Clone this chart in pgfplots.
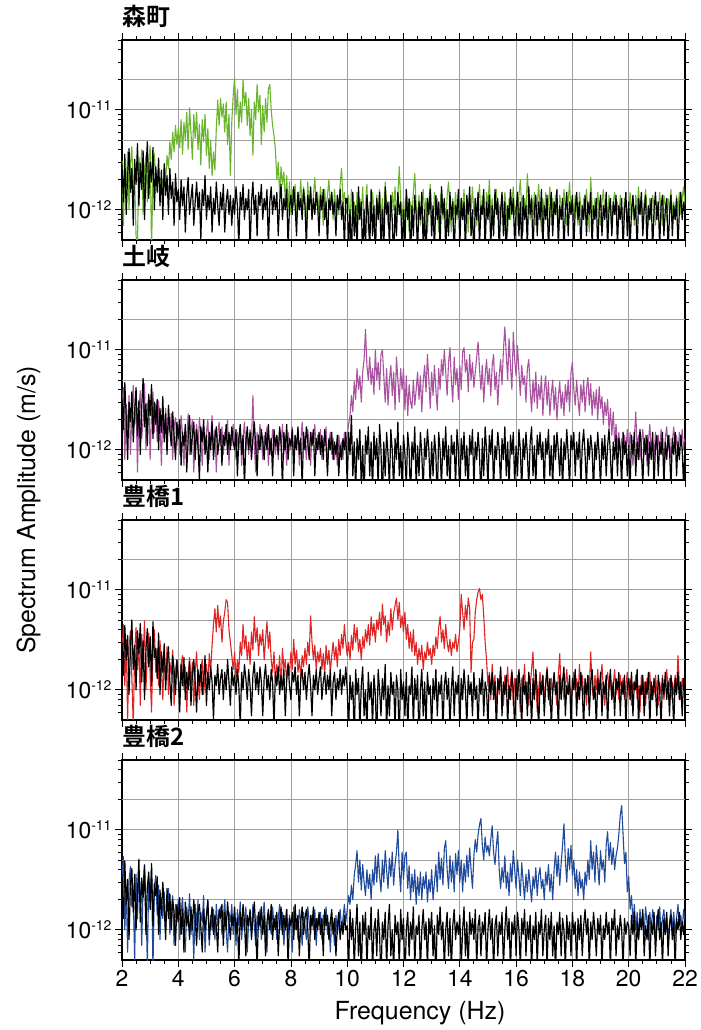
\documentclass[border=0pt]{standalone}
\usepackage{fontspec}
\setmainfont{TeX Gyre Heros}
\newfontfamily\cjk{Noto Sans CJK JP Bold}
\usepackage{pgfplots}
\pgfplotsset{compat=1.18}
\usepackage{pgfplotstable}
\definecolor{cgreen}{RGB}{106,180,46}
\definecolor{cpurple}{RGB}{168,82,160}
\definecolor{cred}{RGB}{222,36,36}
\definecolor{cblue}{RGB}{32,74,156}
\definecolor{gridc}{RGB}{160,160,160}
\newcommand\tenexp[1]{10\raisebox{8.5bp}{\fontsize{14}{14}\selectfont -#1}}
\pgfplotstableread{
x k1 g k2 p k3 r k4 b
2.00 2.8 3.1 3.3 2.4 3.0 2.2 2.6 3.4
2.05 1.2 0.7 1.6 4.2 1.4 4.5 1.3 5.4
2.10 3.6 2.5 4.7 0.8 4.4 1.1 4.9 1.0
2.15 0.9 1.7 2.1 2.8 2.0 3.2 1.8 2.6
2.20 2.2 3.8 0.8 1.5 3.5 0.5 3.2 0.6
2.25 4.1 1.0 3.0 3.5 0.9 2.7 0.8 3.1
2.30 1.5 2.9 1.9 0.9 2.6 3.9 2.9 4.3
2.35 2.6 4.3 3.8 2.2 5.0 1.3 4.1 1.7
2.40 0.7 1.4 1.2 4.4 1.6 0.45 1.5 2.2
2.45 3.2 2.0 2.5 1.8 2.8 2.4 3.6 0.5
2.50 1.8 0.55 4.2 3.0 1.0 4.2 1.0 3.6
2.55 4.6 0.45 1.4 0.6 3.9 1.6 2.4 1.3
2.60 1.1 3.4 3.1 2.6 2.3 2.9 5.1 4.0
2.65 2.9 2.2 0.9 3.9 4.6 0.7 1.2 2.4
2.70 1.6 4.0 2.7 1.3 1.2 3.6 3.3 0.7
2.75 3.9 0.9 5.2 2.0 3.1 2.0 2.1 2.9
2.80 0.8 2.6 1.7 4.6 0.8 4.9 4.4 4.5
2.85 2.4 3.5 2.9 1.0 2.5 1.0 0.9 1.9
2.90 4.8 1.2 1.1 2.7 4.1 2.3 2.7 0.45
2.95 1.3 3.0 3.6 3.3 1.7 3.7 3.8 3.2
3.00 3.0 4.4 2.2 0.8 3.4 1.4 1.6 2.0
3.05 1.9 0.4 4.5 2.4 1.1 0.6 4.6 4.2
3.10 4.2 2.3 1.3 3.8 4.8 2.8 1.1 0.4
3.15 1.0 3.7 3.0 1.5 2.1 4.0 2.9 2.7
3.20 2.7 2.0 1.8 2.9 2.6 1.5 2.2 3.5
3.25 1.5 1.8 3.2 1.2 1.3 2.6 3.4 1.4
3.30 3.3 2.6 1.0 3.1 3.7 1.1 0.9 2.8
3.35 1.1 1.2 2.6 1.9 0.9 3.1 2.5 0.8
3.40 2.5 2.2 1.5 0.7 2.4 1.7 1.4 2.1
3.45 0.8 1.5 3.4 2.5 1.5 0.8 3.0 1.3
3.50 2.9 2.8 1.2 1.3 2.9 2.3 1.7 2.4
3.55 1.4 2.0 2.3 2.6 1.0 1.2 0.8 1.0
3.60 2.2 3.5 0.9 1.0 1.9 2.7 2.6 1.9
3.65 0.9 2.6 2.8 2.0 2.7 0.9 1.3 2.6
3.70 2.6 4.8 1.6 1.5 1.2 1.9 2.3 0.9
3.75 1.3 3.2 1.1 2.3 0.7 1.4 1.0 1.6
3.80 1.9 6.0 2.4 0.8 2.2 2.5 2.0 2.2
3.85 0.7 3.8 1.4 1.7 1.6 0.7 1.5 0.7
3.90 2.3 7.0 0.8 2.1 0.9 1.6 0.7 1.8
3.95 1.2 4.5 1.9 1.1 2.0 2.0 1.8 1.2
4.00 1.6 6.5 1.3 1.8 1.3 1.3 1.2 2.0
4.05 0.8 4.2 2.0 0.9 0.6 0.9 2.1 0.8
4.10 2.0 8.0 0.7 2.2 1.8 1.8 0.9 1.5
4.15 1.1 3.6 1.5 1.4 1.1 2.2 1.6 2.1
4.20 1.7 7.5 1.1 0.7 2.1 1.0 0.6 1.0
4.25 0.6 5.0 1.8 1.6 0.8 1.7 1.9 0.6
4.30 1.4 9.5 0.6 1.2 1.5 0.6 1.1 1.7
4.35 2.1 4.0 1.3 2.3 1.0 1.4 1.4 1.2
4.40 0.9 10.5 2.2 0.9 1.9 2.1 0.8 2.3
4.45 1.3 6.0 0.9 1.5 0.7 1.1 1.7 0.9
4.50 1.8 3.2 1.4 2.0 1.4 1.9 1.0 1.4
4.55 0.7 9.0 1.9 0.6 2.0 0.7 2.0 0.5
4.60 1.2 5.2 0.8 1.3 1.2 1.5 1.3 1.8
4.65 1.9 9.5 1.6 1.8 0.6 2.4 0.7 1.1
4.70 1.0 4.0 1.1 1.0 1.6 1.2 1.5 2.0
4.75 1.5 7.2 0.5 2.1 1.1 0.8 1.8 0.8
4.80 0.5 2.8 1.7 1.4 1.8 1.6 1.1 1.5
4.85 1.6 8.0 1.2 0.7 0.9 2.0 0.6 1.2
4.90 1.1 4.8 2.0 1.7 1.3 0.9 1.6 2.2
4.95 2.2 9.0 0.9 1.1 2.2 1.4 1.0 0.6
5.00 0.8 3.5 1.4 1.5 0.7 1.8 1.4 1.3
5.05 1.4 6.5 0.6 2.0 1.5 1.1 2.0 1.9
5.10 1.0 2.6 1.5 0.8 1.0 2.3 0.8 0.7
5.15 1.7 5.0 1.0 1.3 1.7 1.5 1.2 1.4
5.20 0.6 2.2 1.9 2.2 1.2 2.8 1.7 1.0
5.25 1.3 3.8 0.8 1.0 0.5 4.5 0.9 1.6
5.30 0.9 2.5 1.3 1.6 1.4 6.5 1.4 0.8
5.35 1.9 6.5 1.7 0.6 1.1 3.8 1.1 1.8
5.40 1.1 12.5 0.9 1.4 1.8 7.0 0.6 1.1
5.45 0.7 7.0 1.2 1.9 0.9 4.2 1.6 1.5
5.50 1.5 13.0 1.6 1.1 1.3 5.5 1.3 1.7
5.55 1.0 8.5 0.7 1.7 1.6 3.0 1.8 0.9
5.60 1.8 11.5 1.4 0.9 0.8 4.8 0.7 1.3
5.65 0.6 6.0 1.1 1.5 1.5 6.0 1.5 2.0
5.70 1.2 12.0 1.8 1.2 1.0 8.0 1.0 1.0
5.75 1.6 4.5 0.9 2.0 2.0 7.5 1.9 0.6
5.80 0.9 9.0 1.5 0.7 1.2 4.0 1.2 1.5
5.85 1.4 2.2 1.0 1.4 0.7 3.0 0.8 1.2
5.90 0.7 7.5 1.7 1.1 1.7 2.2 1.4 1.8
5.95 1.3 14.0 1.2 1.8 1.1 1.6 1.1 0.9
6.00 0.9 21.0 1.0 1.2 1.4 2.4 1.7 1.4
6.05 1.7 9.0 1.6 0.8 0.9 1.3 0.9 0.7
6.10 1.1 16.0 0.55 1.5 1.6 2.0 1.3 1.6
6.15 0.42 6.5 1.3 1.0 1.1 1.5 0.42 1.1
6.20 1.5 12.0 1.8 1.7 0.42 3.0 1.5 1.9
6.25 1.0 7.5 0.9 0.7 1.5 2.2 1.0 0.8
6.30 1.8 20.0 1.4 1.3 1.0 4.5 1.8 1.3
6.35 0.8 11.0 0.42 1.9 1.8 2.6 1.2 1.0
6.40 1.3 15.0 1.2 1.0 1.3 3.5 0.55 1.7
6.45 1.0 7.0 1.7 1.4 0.8 2.0 1.4 0.6
6.50 1.6 13.0 1.0 0.9 1.6 3.0 1.1 1.2
6.55 0.38 5.5 1.5 1.6 1.1 1.8 1.6 1.5
6.60 1.2 10.0 0.8 1.2 0.55 3.8 0.8 0.9
6.65 1.9 3.5 1.3 3.5 1.4 2.5 1.3 1.8
6.70 0.9 12.0 1.9 1.1 1.9 5.4 1.9 1.1
6.75 1.4 8.0 1.1 0.6 1.0 3.0 1.0 0.7
6.80 0.55 18.0 0.55 1.5 1.5 4.2 0.42 1.4
6.85 1.5 9.5 1.4 1.0 0.9 2.2 1.5 1.0
6.90 1.1 14.0 1.0 1.8 1.7 3.6 1.1 1.6
6.95 1.8 4.5 1.6 1.3 1.2 2.8 1.7 0.8
7.00 0.8 11.0 1.2 0.8 0.55 4.0 0.9 1.3
7.05 1.3 6.0 0.8 1.4 1.3 2.0 1.4 1.9
7.10 1.0 13.0 1.5 1.1 1.8 3.2 0.55 1.0
7.15 1.6 7.5 1.0 1.7 1.0 4.8 1.2 0.6
7.20 0.42 16.0 1.8 0.7 1.4 2.6 1.6 1.5
7.25 1.2 18.0 0.9 1.3 0.8 3.8 1.0 1.2
7.30 1.7 10.0 1.3 1.0 1.6 2.0 1.8 0.9
7.35 0.9 7.0 0.55 1.6 1.2 1.5 0.8 1.7
7.40 1.4 5.5 1.6 1.2 0.42 2.4 1.3 1.1
7.45 1.0 4.0 1.1 0.9 1.5 1.2 1.0 1.4
7.50 1.5 2.0 1.4 1.4 1.1 1.8 1.5 0.8
7.55 0.55 3.0 0.9 0.8 1.7 1.3 0.55 1.3
7.60 1.2 1.4 1.7 1.6 0.9 2.2 1.2 1.8
7.65 1.8 2.7 1.2 1.1 1.4 1.0 1.7 1.0
7.70 0.8 1.8 0.42 1.8 1.0 2.6 0.9 1.5
7.75 1.3 2.4 1.5 0.9 1.6 1.6 1.4 0.7
7.80 1.0 1.2 1.0 1.3 0.55 2.0 1.0 1.2
7.85 1.6 2.2 1.8 0.7 1.3 1.2 1.6 1.6
7.90 0.42 1.0 0.8 1.5 1.8 1.9 0.42 0.9
7.95 1.1 1.9 1.3 1.2 1.1 1.4 1.3 1.4
8.00 1.4 0.9 1.1 1.0 0.8 2.4 1.1 1.1
8.05 0.9 1.6 1.6 1.7 1.5 1.6 1.5 0.6
8.10 1.7 1.1 0.55 0.8 1.2 3.2 0.8 1.7
8.15 1.1 1.8 1.4 1.4 1.7 1.8 1.8 1.0
8.20 0.55 0.8 1.0 1.1 0.9 2.5 1.0 1.3
8.25 1.5 1.5 1.7 1.6 1.4 1.5 1.4 0.8
8.30 1.0 1.2 0.9 0.7 0.55 2.0 0.55 1.6
8.35 1.3 2.0 1.3 1.2 1.3 1.3 1.2 1.2
8.40 0.8 1.0 0.42 1.9 1.6 2.2 1.7 0.7
8.45 1.6 1.7 1.5 1.0 1.0 1.7 0.9 1.5
8.50 1.1 1.3 1.0 1.3 1.5 2.6 1.3 1.1
8.55 0.42 0.7 1.7 0.8 0.8 1.8 1.6 0.8
8.60 1.4 1.9 1.2 1.6 1.3 3.0 1.0 1.7
8.65 1.0 1.0 0.8 1.1 1.8 2.2 0.42 1.2
8.70 1.7 1.6 1.5 0.7 1.1 5.5 1.4 0.9
8.75 0.8 0.8 1.1 1.5 0.55 3.0 1.1 1.4
8.80 1.3 1.4 1.6 1.2 1.4 2.0 1.7 1.0
8.85 0.9 2.1 0.55 1.8 1.0 2.8 0.8 1.6
8.90 1.5 1.1 1.3 0.9 1.6 1.6 1.3 0.7
8.95 1.1 1.5 1.0 1.4 0.9 2.4 1.0 1.3
9.00 0.55 0.9 1.5 1.0 1.3 1.9 1.5 1.1
9.05 1.4 1.7 0.9 1.6 1.7 2.6 0.9 1.5
9.10 1.0 1.2 1.4 0.8 0.8 1.6 1.3 0.8
9.15 1.6 0.7 0.8 1.3 1.2 2.3 0.55 1.4
9.20 0.8 1.6 1.6 1.1 1.5 1.4 1.6 1.0
9.25 1.2 1.0 1.1 1.7 0.9 2.8 1.1 1.7
9.30 0.42 1.4 0.55 0.7 1.4 1.8 1.4 0.9
9.35 1.3 2.0 1.3 1.2 1.0 2.5 0.8 1.2
9.40 1.0 1.1 1.0 1.5 1.6 1.5 1.2 0.6
9.45 1.5 1.5 1.5 0.9 0.55 2.2 1.6 1.3
9.50 0.9 0.8 0.8 1.3 1.2 3.0 0.9 1.1
9.55 1.2 1.6 1.2 0.8 1.5 2.0 1.3 0.7
9.60 0.55 1.0 0.9 1.1 0.8 2.7 0.55 1.4
9.65 1.4 1.3 1.4 0.7 1.3 1.7 1.1 0.9
9.70 1.0 0.9 0.55 1.4 1.0 3.2 1.5 1.2
9.75 1.6 1.8 1.1 1.0 1.6 2.2 0.8 1.6
9.80 0.8 2.6 0.8 1.2 0.9 3.6 1.2 1.0
9.85 1.2 1.2 1.3 0.8 1.4 2.6 0.9 1.3
9.90 0.42 1.5 1.0 1.5 1.1 4.5 1.4 1.8
9.95 1.3 1.0 1.5 1.1 1.7 3.0 1.0 1.2
10.00 1.3 0.9 0.42 1.4 1.0 2.2 1.1 1.6
10.05 0.42 1.4 1.5 1.8 0.38 3.0 0.38 2.2
10.10 1.0 0.7 0.9 2.2 1.4 2.0 1.6 1.8
10.15 0.3 1.6 2.2 3.5 0.8 3.5 0.8 2.8
10.20 1.5 1.0 0.55 2.4 1.2 2.5 1.3 2.0
10.25 0.55 1.2 1.2 4.8 0.3 4.5 0.42 3.5
10.30 1.1 0.6 0.38 3.2 1.6 3.0 1.0 4.5
10.35 0.38 1.5 1.3 6.5 0.9 4.2 1.8 6.2
10.40 1.7 0.8 0.8 4.0 1.3 2.4 0.55 3.0
10.45 0.8 1.3 1.6 5.5 0.42 3.2 1.2 5.0
10.50 1.2 0.9 0.42 3.0 1.1 2.0 0.3 2.5
10.55 0.3 1.7 1.1 6.0 1.7 3.4 1.4 4.5
10.60 1.0 0.7 0.3 8.0 0.55 2.6 0.9 3.0
10.65 0.42 1.1 1.4 16.0 1.0 4.0 1.5 2.2
10.70 1.4 1.8 0.9 7.0 0.38 3.0 0.42 4.0
10.75 0.9 0.6 1.7 5.0 1.5 4.5 1.1 2.6
10.80 0.38 1.2 0.55 8.5 0.8 2.8 0.8 3.6
10.85 1.6 0.8 1.2 4.5 1.2 5.4 1.7 2.0
10.90 0.55 1.5 0.38 6.5 0.42 3.5 0.38 4.0
10.95 1.1 1.0 1.5 3.6 1.4 4.6 1.0 2.8
11.00 0.3 0.7 0.8 10.0 0.9 3.0 1.3 5.5
11.05 1.3 1.4 1.3 5.0 0.3 5.0 0.55 3.0
11.10 0.8 0.9 0.42 7.5 1.6 4.0 1.6 5.8
11.15 1.5 1.6 1.8 4.0 1.0 6.0 0.9 3.5
11.20 0.42 0.8 1.0 9.0 0.55 3.5 0.3 2.4
11.25 1.0 1.3 0.3 10.0 1.3 7.2 1.2 5.0
11.30 0.38 0.6 1.2 5.5 0.8 4.5 0.8 3.0
11.35 1.7 1.9 0.55 3.0 1.8 5.5 1.5 6.2
11.40 0.9 1.1 1.5 6.5 0.38 3.0 0.42 4.0
11.45 1.2 0.7 0.9 2.8 1.1 4.8 1.1 2.6
11.50 0.42 1.2 0.42 5.0 0.55 3.5 1.8 5.2
11.55 1.4 0.8 1.6 7.0 1.5 6.5 0.55 3.4
11.60 0.8 1.5 1.0 3.5 0.9 4.0 1.0 6.0
11.65 0.3 1.0 0.38 6.0 1.2 5.8 0.38 2.8
11.70 1.1 1.7 1.3 2.5 0.42 7.0 1.4 4.5
11.75 0.55 0.9 0.8 8.5 1.4 8.3 0.9 6.0
11.80 1.5 1.4 1.9 5.0 1.0 5.0 1.2 10.0
11.85 0.9 2.7 0.55 3.0 0.3 7.5 0.42 4.0
11.90 1.2 1.2 1.1 6.5 1.6 4.2 1.6 2.4
11.95 0.38 0.8 0.38 4.0 0.8 5.5 0.8 6.0
12.00 1.0 1.3 1.4 6.5 1.2 3.8 1.3 3.2
12.05 0.42 0.7 0.9 2.5 0.55 6.0 0.3 5.5
12.10 1.6 1.6 0.42 5.5 1.5 3.2 1.0 6.0
12.15 0.8 1.0 1.5 2.2 0.38 4.5 1.5 2.6
12.20 1.3 0.6 1.0 4.5 1.1 2.6 0.55 4.4
12.25 0.3 1.2 0.3 3.0 0.9 3.8 1.2 2.0
12.30 1.1 0.9 1.2 2.6 1.7 2.4 0.8 3.6
12.35 0.55 1.5 0.8 5.0 0.42 4.0 1.7 2.4
12.40 1.4 2.3 1.7 2.8 1.3 2.2 0.42 4.0
12.45 0.9 1.1 0.42 4.0 0.8 3.0 1.1 1.8
12.50 0.38 0.8 1.1 6.0 1.4 1.8 0.9 3.4
12.55 1.2 1.4 0.55 3.2 0.3 2.6 1.4 2.2
12.60 0.8 0.7 1.5 5.5 1.0 2.0 0.38 3.8
12.65 1.5 1.1 0.9 2.4 1.6 2.8 1.0 2.0
12.70 0.42 1.6 0.38 4.8 0.55 1.6 1.6 3.4
12.75 1.0 0.9 1.3 7.0 1.2 2.4 0.8 2.6
12.80 0.3 1.3 0.8 3.8 0.42 2.0 1.2 3.8
12.85 1.3 0.6 1.6 9.0 1.5 3.0 0.42 1.9
12.90 0.9 1.2 1.0 5.0 0.9 2.2 1.3 3.2
12.95 1.6 1.8 0.42 2.6 1.1 2.6 0.9 2.4
13.00 0.55 1.0 1.2 6.0 0.38 1.8 1.5 4.0
13.05 1.1 0.7 0.55 3.5 1.3 2.8 0.55 2.0
13.10 0.38 1.5 1.4 7.0 0.8 2.2 1.1 3.0
13.15 1.4 0.9 0.9 4.0 1.6 3.4 0.3 4.5
13.20 0.8 1.3 0.3 2.5 0.55 2.6 1.4 2.4
13.25 1.2 0.6 1.5 6.5 1.2 4.2 0.9 6.0
13.30 0.42 1.1 1.0 4.0 0.9 5.4 1.7 3.2
13.35 1.7 1.6 0.42 8.0 1.4 3.0 0.8 5.2
13.40 0.9 0.8 1.3 5.5 0.38 4.0 1.2 2.8
13.45 1.3 1.2 0.8 10.0 1.1 2.6 0.42 6.5
13.50 0.38 0.7 1.7 6.0 1.5 4.5 1.0 7.8
13.55 1.0 1.4 0.55 3.5 0.8 3.0 1.5 4.0
13.60 0.55 1.9 1.1 7.5 1.3 2.4 0.55 2.6
13.65 1.5 1.0 0.38 10.5 0.42 3.2 1.3 5.5
13.70 0.8 0.6 1.4 5.0 1.0 2.2 0.38 3.0
13.75 1.2 1.3 0.9 3.0 1.7 3.0 1.1 4.8
13.80 0.3 0.9 1.2 8.5 0.55 2.6 1.6 2.4
13.85 1.1 1.5 0.42 4.5 1.2 3.6 0.8 5.8
13.90 0.9 0.8 1.6 6.5 0.9 2.4 1.2 3.6
13.95 1.6 1.2 1.0 3.2 1.4 3.0 0.9 6.2
14.00 0.42 0.7 0.3 7.0 0.38 4.0 1.4 3.0
14.05 1.3 1.3 1.3 4.0 1.3 9.0 0.42 5.0
14.10 0.8 1.0 0.8 9.5 0.8 6.0 1.0 2.4
14.15 1.2 1.6 1.5 10.5 1.6 4.0 1.7 4.6
14.20 0.38 0.8 0.55 6.0 1.0 7.0 0.55 3.0
14.25 1.4 1.1 1.1 8.0 0.42 5.0 1.2 5.6
14.30 0.9 0.6 0.38 3.8 1.4 8.3 0.38 3.4
14.35 1.7 1.4 1.4 9.0 0.9 6.5 1.5 6.6
14.40 0.55 1.0 0.9 5.0 1.2 1.5 0.9 4.0
14.45 1.0 1.7 1.6 7.5 0.55 3.0 1.3 2.6
14.50 0.3 0.9 0.42 4.2 1.5 3.2 0.8 5.5
14.55 1.3 1.3 1.2 6.0 0.8 6.0 1.6 8.0
14.60 0.8 0.7 0.8 8.5 1.1 8.0 0.42 6.0
14.65 1.5 1.2 1.5 12.0 0.38 9.5 1.1 9.0
14.70 0.42 1.8 0.9 6.5 1.3 10.3 1.4 11.3
14.75 1.1 0.8 0.3 4.0 0.9 8.0 0.55 13.0
14.80 0.9 1.4 1.3 7.0 1.6 9.0 1.2 7.0
14.85 1.6 1.0 0.55 3.0 0.55 5.5 0.9 5.0
14.90 0.38 0.6 1.7 5.5 1.2 3.0 1.5 8.5
14.95 1.2 1.5 1.0 8.0 1.0 2.0 0.42 6.0
15.00 0.8 1.1 0.42 4.5 0.42 1.1 1.0 7.0
15.05 1.4 2.0 1.4 6.5 1.4 1.5 1.6 5.5
15.10 0.42 0.9 0.9 3.5 0.9 0.8 0.8 8.0
15.15 1.1 1.3 1.6 7.0 1.5 1.8 1.3 11.0
15.20 0.55 0.7 0.38 9.0 0.8 1.0 0.38 6.0
15.25 1.6 1.2 1.1 4.0 1.2 1.4 1.1 4.5
15.30 0.9 1.6 0.8 6.0 0.38 0.6 1.4 7.0
15.35 1.3 0.8 1.5 2.8 1.3 1.3 0.55 9.6
15.40 0.38 1.1 1.0 5.5 1.0 0.9 1.2 4.0
15.45 1.0 0.7 0.42 8.0 1.7 1.6 0.9 2.6
15.50 1.5 1.4 1.3 4.5 0.55 1.0 1.5 4.2
15.55 0.55 0.9 0.8 10.0 1.2 0.7 0.42 3.0
15.60 1.2 1.5 1.7 17.0 0.9 1.4 1.0 5.5
15.65 0.3 1.0 0.55 9.0 1.4 1.0 1.7 2.6
15.70 1.1 0.6 1.2 5.0 0.42 1.7 0.8 3.8
15.75 0.8 1.3 0.38 13.0 1.1 0.8 1.3 2.2
15.80 1.6 0.8 1.4 7.0 0.8 1.2 0.38 4.6
15.85 0.9 1.2 0.9 4.0 1.5 1.6 1.2 3.0
15.90 1.3 1.7 1.5 15.0 1.0 0.7 0.9 6.2
15.95 0.42 0.9 0.42 8.0 0.38 1.3 1.4 4.0
16.00 1.0 1.1 1.1 5.5 1.3 0.9 0.55 2.6
16.05 1.5 0.7 0.55 11.0 0.8 1.4 1.5 5.0
16.10 0.55 1.4 1.6 6.0 1.6 1.0 1.0 3.4
16.15 1.2 2.0 1.0 3.5 1.0 0.6 0.42 2.2
16.20 0.38 1.0 0.38 7.0 0.42 1.3 1.3 4.7
16.25 1.4 0.6 1.3 4.5 1.4 1.0 0.9 3.0
16.30 0.8 1.3 0.8 5.5 0.9 1.8 1.6 2.0
16.35 1.1 0.9 1.5 3.0 1.2 0.8 0.55 3.6
16.40 0.42 2.3 0.9 6.5 0.55 1.2 1.2 2.4
16.45 1.7 1.2 0.42 8.0 1.5 0.7 0.8 4.0
16.50 0.9 0.8 1.2 4.0 1.1 1.1 1.4 2.8
16.55 1.3 1.4 1.7 2.4 0.42 1.6 0.38 1.9
16.60 0.38 0.9 0.55 5.0 1.3 2.4 1.1 3.4
16.65 1.0 1.5 1.1 3.0 0.8 0.9 0.8 2.6
16.70 1.4 0.7 0.42 6.0 1.6 1.3 1.5 4.2
16.75 0.55 1.1 1.4 2.6 1.0 0.6 0.42 2.2
16.80 1.2 1.8 0.9 4.5 0.38 1.0 1.2 3.5
16.85 0.8 1.0 1.5 3.2 1.2 1.5 0.9 4.2
16.90 1.6 0.6 0.8 5.5 0.9 1.0 1.6 2.6
16.95 0.42 1.3 1.2 2.2 1.4 1.4 0.55 3.2
17.00 1.1 0.9 0.38 4.0 0.55 0.8 1.0 2.0
17.05 0.8 1.5 1.3 5.5 1.1 1.2 1.4 3.8
17.10 1.4 0.8 0.9 2.8 1.6 1.7 0.42 2.8
17.15 0.38 1.2 1.6 4.8 0.8 1.0 1.3 4.5
17.20 1.0 1.7 0.55 2.2 1.3 0.7 0.8 2.4
17.25 1.5 0.7 1.1 3.6 0.42 1.3 1.5 3.6
17.30 0.55 1.3 0.42 5.0 1.0 0.9 0.55 2.0
17.35 1.2 0.9 1.4 2.5 1.5 1.4 1.1 4.0
17.40 0.9 1.4 0.8 4.2 0.9 1.0 0.38 6.0
17.45 1.6 1.0 1.5 2.0 1.2 0.7 1.2 3.4
17.50 0.42 0.6 1.0 3.4 0.38 1.4 0.9 5.5
17.55 1.1 1.4 0.55 4.8 1.4 2.3 1.5 2.8
17.60 0.8 1.1 1.3 2.6 0.8 1.0 0.55 4.6
17.65 1.3 0.8 0.38 3.8 1.2 1.3 1.3 7.0
17.70 0.38 1.6 1.2 2.2 1.7 0.8 1.0 11.5
17.75 1.0 1.0 0.8 4.5 0.55 1.1 0.42 5.0
17.80 1.5 0.7 1.6 3.0 1.1 1.6 1.4 3.0
17.85 0.55 1.2 0.9 5.0 0.9 0.9 0.8 6.5
17.90 1.2 1.9 0.42 2.4 1.4 1.2 1.2 4.0
17.95 0.9 0.9 1.4 6.0 0.42 0.7 0.55 7.0
18.00 1.4 1.3 1.0 7.5 1.3 1.1 1.5 3.5
18.05 0.42 0.8 1.5 4.0 1.0 1.5 0.9 5.0
18.10 1.0 1.4 0.55 2.8 1.6 1.0 1.2 2.6
18.15 1.5 1.0 1.2 5.0 0.55 1.3 0.42 4.0
18.20 0.8 0.7 0.8 3.2 1.2 0.8 1.3 2.2
18.25 1.2 1.5 1.5 2.2 0.8 1.8 0.8 3.8
18.30 0.38 1.1 0.42 4.5 1.5 1.0 1.4 2.6
18.35 1.1 0.8 1.1 3.0 1.0 1.4 0.55 3.2
18.40 0.8 1.3 1.6 5.0 0.42 0.9 1.1 2.0
18.45 1.4 0.9 0.9 2.4 1.3 1.2 1.6 3.8
18.50 0.55 1.6 0.42 4.0 0.9 0.7 0.9 2.8
18.55 1.2 1.0 1.3 5.3 1.4 1.4 1.3 5.0
18.60 0.9 0.6 0.8 2.8 0.55 1.0 0.42 3.2
18.65 1.5 2.1 1.4 4.6 1.2 2.4 1.2 7.8
18.70 0.42 1.1 1.0 2.2 1.6 1.1 0.8 4.0
18.75 1.1 0.8 0.38 3.8 0.8 0.8 1.5 6.0
18.80 0.8 1.3 1.2 2.6 1.1 1.4 1.0 3.0
18.85 1.3 0.9 0.8 4.0 0.42 1.0 0.55 7.0
18.90 0.38 1.5 1.5 2.0 1.3 1.6 1.3 4.5
18.95 1.0 1.0 0.9 4.3 0.9 0.9 0.9 2.8
19.00 1.4 0.7 0.42 2.6 1.5 1.3 1.4 6.2
19.05 0.55 1.2 1.3 3.4 0.55 1.8 0.42 4.0
19.10 1.1 1.6 0.8 1.8 1.2 1.0 1.1 5.0
19.15 0.8 0.9 1.4 3.0 0.9 0.7 0.8 3.0
19.20 1.5 1.3 0.55 2.2 1.4 1.2 1.5 7.0
19.25 0.42 0.8 1.1 3.2 0.42 1.5 0.9 9.6
19.30 1.0 1.4 1.6 1.6 1.1 1.0 1.2 5.0
19.35 1.3 1.0 0.9 2.6 1.6 1.3 0.42 7.5
19.40 0.55 0.6 0.38 1.4 0.8 0.8 1.3 4.5
19.45 1.2 1.2 1.2 2.4 1.2 1.1 1.0 6.6
19.50 0.9 1.5 0.8 1.2 0.55 1.6 1.6 4.0
19.55 1.4 0.9 1.4 1.8 1.3 0.9 0.55 5.5
19.60 0.42 1.2 0.55 1.0 1.0 1.2 1.1 6.6
19.65 1.1 0.8 1.3 1.5 1.5 0.8 0.8 9.0
19.70 0.8 1.4 1.0 0.9 0.55 1.4 1.4 14.0
19.75 1.3 1.0 0.42 1.3 1.2 1.0 1.0 17.5
19.80 0.38 0.7 1.5 0.8 0.9 1.3 0.42 9.0
19.85 1.0 1.3 0.9 1.4 1.4 0.8 1.3 4.6
19.90 1.5 1.1 1.2 1.0 0.42 1.1 0.9 6.0
19.95 0.55 0.8 0.55 1.6 1.1 1.5 1.2 2.4
20.00 1.2 1.0 1.1 0.9 1.3 0.9 1.1 3.4
20.05 0.42 1.5 0.42 1.5 0.8 1.3 0.55 1.6
20.10 1.0 0.8 1.4 1.1 1.5 0.7 1.4 2.2
20.15 1.4 1.2 0.9 0.7 0.55 1.2 0.9 1.2
20.20 0.8 0.7 1.5 1.3 1.2 1.0 1.5 1.8
20.25 1.1 1.4 0.55 2.4 1.0 1.4 0.42 1.0
20.30 0.38 1.0 1.2 1.0 1.6 0.8 1.2 1.5
20.35 1.3 1.7 0.8 1.4 0.42 1.1 0.8 0.8
20.40 0.9 0.9 1.6 0.8 1.1 0.6 1.3 1.6
20.45 1.5 1.3 1.0 1.2 0.9 1.4 1.0 1.1
20.50 0.55 0.8 0.42 1.6 1.4 0.9 1.6 1.4
20.55 1.0 1.2 1.3 1.0 0.55 1.2 0.55 0.9
20.60 1.4 1.6 0.9 1.4 1.2 0.7 1.1 1.7
20.65 0.42 1.0 1.4 0.7 0.9 1.3 0.8 1.2
20.70 1.1 0.7 0.55 1.2 1.5 1.0 1.4 0.8
20.75 0.8 1.3 1.2 1.8 0.42 1.5 0.42 1.5
20.80 1.3 0.9 0.8 1.0 1.2 0.8 1.2 1.0
20.85 0.38 1.4 1.5 1.3 0.8 1.1 0.9 1.6
20.90 1.0 1.1 0.42 0.8 1.3 0.9 1.5 1.2
20.95 1.5 0.7 1.1 1.5 1.0 1.4 0.55 0.8
21.00 0.8 1.2 1.4 1.0 0.55 1.0 1.1 1.4
21.05 1.2 0.9 0.55 1.4 1.4 0.7 1.6 1.0
21.10 0.42 1.5 1.2 0.9 1.0 1.2 0.8 1.7
21.15 1.1 1.0 0.9 1.6 0.42 0.9 1.2 0.9
21.20 1.4 0.7 1.5 1.1 1.3 1.4 0.42 1.3
21.25 0.55 1.4 0.42 0.7 0.9 0.8 1.3 1.6
21.30 1.0 1.1 1.2 1.3 1.5 1.1 0.9 1.0
21.35 1.3 0.8 0.8 1.7 0.8 1.6 1.5 1.4
21.40 0.38 1.3 1.4 1.0 1.2 1.0 0.55 0.8
21.45 0.9 1.0 1.0 1.4 0.55 1.3 1.1 1.2
21.50 1.4 1.6 0.42 0.8 1.4 0.8 1.4 1.6
21.55 0.55 0.9 1.3 1.2 1.0 1.2 0.8 1.0
21.60 1.1 1.2 0.9 1.7 0.42 0.9 1.2 1.5
21.65 0.8 0.8 1.5 1.0 1.3 1.4 0.42 0.9
21.70 1.3 1.4 0.55 1.4 0.9 1.0 1.3 1.3
21.75 0.42 1.0 1.2 0.9 1.5 2.2 1.0 1.8
21.80 1.0 1.5 0.8 1.5 0.8 1.1 1.5 1.1
21.85 1.5 0.9 1.4 1.1 1.2 0.8 0.8 1.4
21.90 0.8 1.3 1.0 1.6 0.55 1.3 1.2 1.0
21.95 1.2 1.7 0.42 1.0 1.3 1.0 0.9 1.6
22.00 0.9 1.1 1.2 1.3 1.0 1.2 1.3 1.2
}\spec
\pgfplotsset{
  /pgf/number format/assume math mode=true,
  mypanel/.style={
    scale only axis, width=563bp, height=200bp,
    anchor=north west,
    xmin=2, xmax=22, ymin=0.5, ymax=50,
    xtick={2,4,6,8,10,12,14,16,18,20,22}, minor x tick num=3,
    ytick={1,10}, yticklabels={\tenexp{12},\tenexp{11}},
    minor ytick={0.6,0.7,0.8,0.9,2,3,4,5,6,7,8,9,20,30,40,50},
    extra y ticks={2,5,20}, extra y tick labels={},
    extra y tick style={grid=major, major tick length=0pt},
    xmajorgrids, ymajorgrids,
    grid style={gridc, line width=0.8bp},
    tick align=outside, tick pos=both,
    major tick length=7bp, minor tick length=4bp,
    tick style={black, line width=0.8bp},
    axis line style={line width=1.6bp},
    tick label style={font=\fontsize{23}{23}\selectfont},
    title style={at={(0,1)}, anchor=base west, inner sep=0pt, yshift=8.5bp, font=\cjk\fontsize{24}{24}\selectfont},
  },
  sig/.style={line width=1.1bp, line join=round},
  noi/.style={black, line width=1.2bp, line join=round},
}
\begin{document}
\begin{tikzpicture}[x=1bp,y=1bp]
\useasboundingbox (0,0) rectangle (701,1030);
\begin{semilogyaxis}[mypanel, at={(122bp,990bp)}, xticklabels={}, title={森町}]
\addplot[sig, cgreen] table[x=x,y=g]{\spec};
\addplot[noi] table[x=x,y=k1]{\spec};
\end{semilogyaxis}
\begin{semilogyaxis}[mypanel, at={(122bp,750bp)}, xticklabels={}, title={土岐}]
\addplot[sig, cpurple] table[x=x,y=p]{\spec};
\addplot[noi] table[x=x,y=k2]{\spec};
\end{semilogyaxis}
\begin{semilogyaxis}[mypanel, at={(122bp,510bp)}, xticklabels={}, title={豊橋1}]
\addplot[sig, cred] table[x=x,y=r]{\spec};
\addplot[noi] table[x=x,y=k3]{\spec};
\end{semilogyaxis}
\begin{semilogyaxis}[mypanel, at={(122bp,270bp)}, title={豊橋2}]
\addplot[sig, cblue] table[x=x,y=b]{\spec};
\addplot[noi] table[x=x,y=k4]{\spec};
\end{semilogyaxis}
\node[rotate=90, anchor=base, font=\fontsize{25}{25}\selectfont] at (35,520) {Spectrum Amplitude (m/s)};
\node[anchor=base, font=\fontsize{25}{25}\selectfont] at (420,10) {Frequency (Hz)};
\end{tikzpicture}
\end{document}
